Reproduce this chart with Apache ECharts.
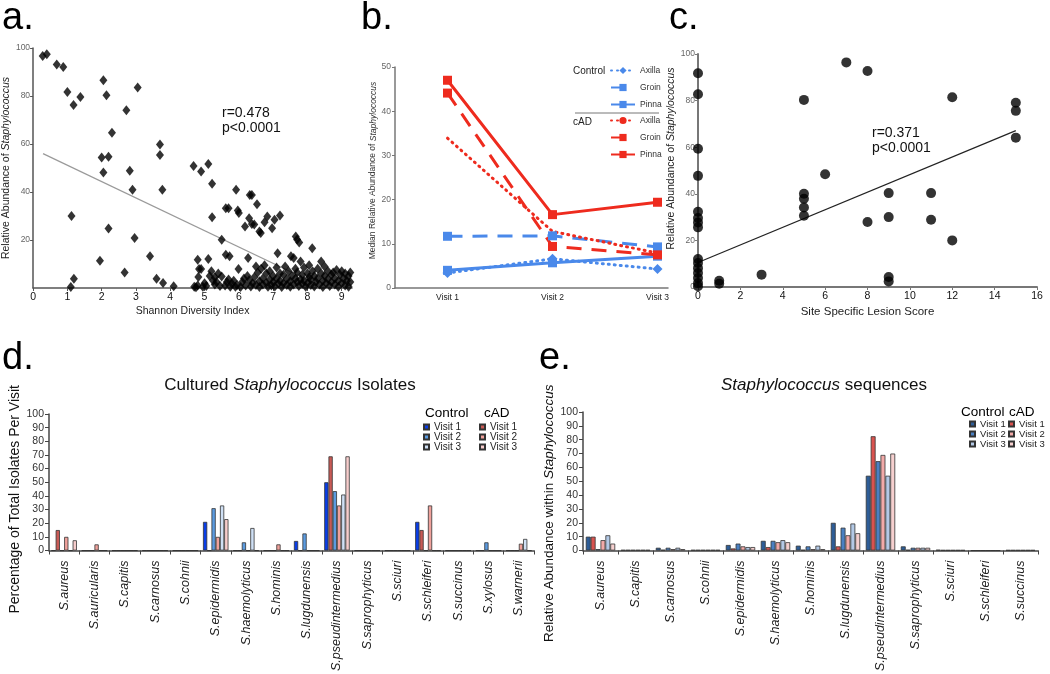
<!DOCTYPE html>
<html><head><meta charset="utf-8">
<script src="https://cdn.jsdelivr.net/npm/echarts@6/dist/echarts.min.js"></script>
<style>html,body{margin:0;padding:0;background:#fff}#c{width:1050px;height:674px}</style>
</head><body><div id="c"></div>
<script>
const FONT = '"Liberation Sans", Arial, Helvetica, sans-serif';

// ---------- Panel a: Shannon diversity vs relative abundance ----------
const aPoints = [
 [0.28,96.7],[0.40,97.4],[0.69,93.1],[0.88,92.1],[1.0,81.7],[1.18,76.2],[1.38,79.6],[1.12,30],[1.1,0.4],[1.19,3.9],
 [2.05,86.6],[2.14,80.3],[2.0,54.4],[2.2,54.7],[2.05,48.1],[2.3,64.7],[2.2,24.8],[1.95,11.4],[2.72,74.1],[3.05,83.5],
 [2.82,48.9],[2.9,40.9],[2.96,20.8],[2.67,6.5],[3.7,59.8],[3.7,55.4],[3.77,40.9],[3.41,13.2],[3.6,3.9],[3.79,2.1],[4.1,0.7],
 [4.68,50.8],[4.9,48.5],[5.11,51.7],[5.22,43.4],[5.22,29.5],[5.5,20.1],[5.62,33.2],[5.7,33.2],[5.62,13.9],[5.92,40.9],
 [5.97,32.3],[6.0,31.2],[6.3,29.1],[6.18,25.6],[6.32,38.8],[6.38,38.8],[6.53,34.9],[6.38,26.7],[6.64,22.9],[6.83,29.8],
 [6.75,27.4],[6.97,24.9],[7.04,28.4],[7.2,30.2],[7.13,14.5],[7.66,21.5],[7.76,19],[8.14,16.6],[7.52,13.2],[6.27,12.5],
 [5.73,13.2],[4.8,11.8],[5.11,12.1],[4.84,7.9],[4.82,4.6],[5.99,7.9],[6.6,23.5],[6.45,26.5],[7.7,20.2],
 [4.7,0.5],[4.75,0.3],[4.8,1],[4.9,7.9],[4.95,0.5],[5.0,2],[5.05,0.8],[5.15,5],[5.2,7],[5.25,3],[5.3,4.5],[5.3,1.5],
 [5.35,2.5],[5.4,6],[5.45,0.8],[5.5,4.8],[5.6,1],[5.65,2.5],[5.7,3.5],[5.75,0.5],[5.8,1.8],[5.85,3],[5.9,0.5],[5.95,1.2],
 [6.05,0.4],[6.1,2.5],[6.15,4],[6.2,1],[6.25,5],[6.3,3.2],[6.35,0.6],[6.4,2],[6.45,4.5],[6.5,9],[6.5,1.2],[6.55,6.5],
 [6.6,2.8],[6.6,0.4],[6.65,8],[6.7,4],[6.7,1.5],[6.75,9.5],[6.8,6],[6.8,2.2],[6.85,0.5],[6.9,3.5],[6.9,7],[6.95,1],
 [7.0,5],[7.0,2.5],[7.05,0.6],[7.1,4],[7.1,8.5],[7.15,1.8],[7.2,6],[7.2,3],[7.25,0.4],[7.3,2],[7.3,5.5],[7.35,9],
 [7.4,1.2],[7.4,3.8],[7.45,7],[7.5,0.5],[7.5,2.8],[7.55,5],[7.6,12.5],[7.6,1.5],[7.65,4],[7.65,8],[7.7,2.5],[7.7,6.5],
 [7.75,0.8],[7.8,3.5],[7.8,11],[7.85,5.5],[7.85,1.8],[7.9,8.5],[7.9,3],[7.95,0.5],[8.0,6],[8.0,2],[8.05,4.5],[8.05,9.5],
 [8.1,1.2],[8.1,3.5],[8.15,7],[8.2,0.6],[8.2,5],[8.25,2.5],[8.3,8],[8.3,4],[8.35,1.5],[8.4,11],[8.4,6],[8.45,3],[8.45,0.4],
 [8.5,9],[8.5,5],[8.55,2],[8.6,7],[8.6,3.8],[8.65,0.8],[8.7,5.5],[8.7,2.5],[8.75,6.5],[8.8,1.5],[8.8,4],[8.85,7.5],
 [8.9,3],[8.9,0.5],[8.95,5.5],[9.0,2],[9.0,7],[9.05,4],[9.1,1],[9.1,6],[9.15,3],[9.2,0.5],[9.2,5],[9.25,2.5],[9.25,6.5]
];
const aFit = [[0.29,56],[8.2,2.1]];
const aStats = ['r=0.478','p<0.0001'];

// ---------- Panel b: median abundance by visit ----------
const bVisits = ['Visit 1','Visit 2','Visit 3'];
const bCtlAxilla = [3.4, 6.6, 4.3];
const bCtlGroin  = [11.7, 11.8, 9.3];
const bCtlPinna  = [4.0, 5.7, 7.2];
const bCadAxilla = [33.9, 12.8, 7.9];
const bCadGroin  = [44.1, 9.4, 7.5];
const bCadPinna  = [47.0, 16.6, 19.4];

// ---------- Panel c: lesion score vs relative abundance ----------
const cPoints = [
 [0,91.7],[0,82.7],[0,59.3],[0,47.7],[0,32.3],[0,29.6],[0,27.7],[0,25.6],[0,12],[0,10.3],[0,8.1],[0,6],[0,3.9],[0,1.7],[0,0.3],
 [1,2.7],[1,1.4],[3,5.3],[5,80.3],[5,40],[5,37.9],[5,34.1],[5,30.6],[6,48.4],[7,96.4],[8,92.7],[8,27.9],
 [9,40.3],[9,30],[9,4.3],[9,2.4],[11,40.3],[11,28.9],[12,81.4],[12,20],[15,79.1],[15,75.6],[15,64.1]
];
const cFit = [[0,10.5],[15,67.1]];
const cStats = ['r=0.371','p<0.0001'];

// ---------- Panel d: cultured isolates ----------
const dSpecies = ['S.aureus','S.auricularis','S.capitis','S.carnosus','S.cohnii','S.epidermidis','S.haemolyticus','S.hominis','S.lugdunensis','S.pseudintermedius','S.saprophyticus','S.sciuri','S.schleiferi','S.succinus','S.xylosus','S.warnerii'];
const dCtlV1 = [0,0,0,0,0,21,0,0,7,50,0,0,21,0,0,0];
const dCadV1 = [15,0,0,0,0,0,0,0,0,69,0,0,15,0,0,0];
const dCtlV2 = [0,0,0,0,0,31,6,0,12.5,43.5,0,0,0,0,6,0];
const dCadV2 = [10,4.5,0,0,0,10,0,4.5,0,33,0,0,33,0,0,5];
const dCtlV3 = [0,0,0,0,0,33,16.5,0,0,41,0,0,0,0,0,8.5];
const dCadV3 = [7.5,0,0,0,0,23,0,0,0,69,0,0,0,0,0,0];

// ---------- Panel e: sequences ----------
const eSpecies = ['S.aureus','S.capitis','S.carnosus','S.cohnii','S.epidermidis','S.haemolyticus','S.hominis','S.lugdunensis','S.pseudintermedius','S.saprophyticus','S.sciuri','S.schleiferi','S.succinus'];
const eCtlV1 = [10,0.4,2,0.4,4,7,3.5,20,54,3,0.5,0,0.3];
const eCadV1 = [10,0.4,0.5,0.4,1.5,2.5,0.5,3,82.5,0.5,0.3,0,0.3];
const eCtlV2 = [1,0.4,2,0.4,5,7,3,16.5,64.5,2,0.3,0,0.3];
const eCadV2 = [7.5,0.4,1,0.4,3,6,1,11,69,2,0.3,0,0.3];
const eCtlV3 = [11,0.4,2,0.4,2.5,7.5,3.5,19.5,54,2,0.3,0,0.3];
const eCadV3 = [5,0.4,1,0.4,2.5,6,1,12.5,70,2,0.3,0,0.3];

// ---------- styles ----------
const BLUE = '#4a89ea', RED = '#ee2b1e';
const dColors = {c1:'#0a3ee6', c2:'#5b9be0', c3:'#cfe0f5', a1:'#c85a55', a2:'#f0a19b', a3:'#f7cdcc'};
const eColors = {c1:'#2e5d97', c2:'#4a80c2', c3:'#b3c9e6', a1:'#d9534f', a2:'#f2aaa8', a3:'#f6d0cf'};

const chart = echarts.init(document.getElementById('c'), null, {renderer:'canvas'});

function richName(pre, it, post, size, color){
  return {
    text: '{n|' + pre + '}{i|' + it + '}' + (post ? '{n|' + post + '}' : ''),
    style: {rich: {n:{fontSize:size, color:color, fontFamily:FONT}, i:{fontSize:size, color:color, fontFamily:FONT, fontStyle:'italic'}}}
  };
}
const aName = richName('Relative Abundance of ','Staphylococcus','',10.5,'#222');
const bName = richName('Median Relative Abundance of ','Staphylococcus','',8.5,'#333');
const cName = richName('Relative Abundance of ','Staphylococcus','',10.5,'#222');
const eName = richName('Relative Abundance within ','Staphylococcus','',13.5,'#111');

const baseAxisLine = c => ({show:true, lineStyle:{color:c, width:1.5}});

function barSeries(prefix, idx, names, data, colors){
  return data.map((d,k)=>({
    name: prefix + names[k], type:'bar', xAxisIndex:idx, yAxisIndex:idx, data:d,
    barGap:'0%', barCategoryGap:'16%',
    itemStyle:{color:colors[k], borderColor:'#333', borderWidth:0.8},
    emphasis:{disabled:true}
  }));
}
const barNames = ['Control Visit 1','cAD Visit 1','Control Visit 2','cAD Visit 2','Control Visit 3','cAD Visit 3'];

function lineB(name, data, color, type, symbol){
  return {
    name, type:'line', xAxisIndex:1, yAxisIndex:1,
    data: data.map((v,i)=>[i+1, v]),
    symbol: symbol, symbolSize: symbol==='diamond'?10:9, showSymbol: symbol!=='none',
    itemStyle:{color}, lineStyle:{color, width:3, type, cap: Array.isArray(type)&&type[0]<2 ? 'round':'butt'},
    emphasis:{disabled:true}
  };
}

function barLegend(prefix, names, left, top, size){
  return {data: names.map(n=>prefix+n), orient:'vertical', left, top, itemWidth:5, itemHeight:5, itemGap:0, icon:'rect',
    selectedMode:false, formatter: n => n.slice(-7), textStyle:{fontSize:size, color:'#222', fontFamily:FONT, lineHeight:10}, padding:0};
}

const option = {
  backgroundColor:'#fff',
  animation:false,
  textStyle:{fontFamily:FONT},
  grid:[
    {left:28, top:48, width:324, height:240},
    {left:395, top:67, width:273, height:221},
    {left:698, top:54, width:339, height:233},
    {left:49, top:414, width:485, height:138},
    {left:583, top:412, width:455, height:141}
  ],
  xAxis:[
    {gridIndex:0, type:'value', min:0, max:9.3, interval:1, splitLine:{show:false},
     axisLine:baseAxisLine('#555'), axisTick:{show:true, length:3, lineStyle:{color:'#555'}},
     axisLabel:{showMaxLabel:false, fontSize:10.5, color:'#111', margin:4},
     name:'Shannon Diversity Index', nameLocation:'middle', nameGap:18, nameTextStyle:{fontSize:10.5, color:'#222'}},
    {gridIndex:1, type:'value', min:0.5, max:3.1, interval:0.5, splitLine:{show:false},
     axisLine:baseAxisLine('#777'), axisTick:{show:false},
     axisLabel:{showMaxLabel:false, fontSize:8.5, color:'#222', margin:5, formatter: v => Number.isInteger(v) ? bVisits[v-1] : ''}},
    {gridIndex:2, type:'value', min:0, max:16, interval:2, splitLine:{show:false},
     axisLine:{show:true, lineStyle:{color:'#777', width:2}}, axisTick:{show:true, length:3, lineStyle:{color:'#777'}},
     axisLabel:{fontSize:10.5, color:'#111', margin:4},
     name:'Site Specific Lesion Score', nameLocation:'middle', nameGap:19, nameTextStyle:{fontSize:11.5, color:'#222'}},
    {gridIndex:3, type:'category', data:dSpecies,
     axisLine:baseAxisLine('#444'), axisTick:{show:true, length:4, lineStyle:{color:'#444'}},
     axisLabel:{interval:0, rotate:90, fontStyle:'italic', fontSize:12.5, color:'#222', margin:10}},
    {gridIndex:4, type:'category', data:eSpecies,
     axisLine:baseAxisLine('#444'), axisTick:{show:true, length:4, lineStyle:{color:'#444'}},
     axisLabel:{interval:0, rotate:90, fontStyle:'italic', fontSize:12.5, color:'#222', margin:10}}
  ],
  yAxis:[
    {gridIndex:0, type:'value', min:0, max:100, interval:20, splitLine:{show:false},
     axisLine:baseAxisLine('#555'), axisTick:{show:true, length:3, lineStyle:{color:'#555'}},
     axisLabel:{showMinLabel:false, fontSize:8.5, color:'#666', margin:3},
     name:aName.text, nameLocation:'middle', nameGap:14, nameTextStyle:aName.style},
    {gridIndex:1, type:'value', min:0, max:50, interval:10, splitLine:{show:false},
     axisLine:baseAxisLine('#777'), axisTick:{show:true, length:3, lineStyle:{color:'#777'}},
     axisLabel:{fontSize:8.5, color:'#666', margin:4},
     name:bName.text, nameLocation:'middle', nameGap:15, nameTextStyle:Object.assign({padding:[0,0,0,14]}, bName.style)},
    {gridIndex:2, type:'value', min:0, max:100, interval:20, splitLine:{show:false},
     axisLine:{show:true, lineStyle:{color:'#777', width:2}}, axisTick:{show:true, length:3, lineStyle:{color:'#777'}},
     axisLabel:{fontSize:8.5, color:'#666', margin:3},
     name:cName.text, nameLocation:'middle', nameGap:13, nameTextStyle:Object.assign({padding:[0,0,0,24]}, cName.style)},
    {gridIndex:3, type:'value', min:0, max:100, interval:10, splitLine:{show:false},
     axisLine:baseAxisLine('#444'), axisTick:{show:true, length:4, lineStyle:{color:'#444'}},
     axisLabel:{fontSize:10.5, color:'#333', margin:5},
     name:'Percentage of Total Isolates Per Visit', nameLocation:'middle', nameGap:27, nameTextStyle:{fontSize:14, color:'#111', padding:[0,34,0,0]}},
    {gridIndex:4, type:'value', min:0, max:100, interval:10, splitLine:{show:false},
     axisLine:baseAxisLine('#444'), axisTick:{show:true, length:4, lineStyle:{color:'#444'}},
     axisLabel:{fontSize:10.5, color:'#333', margin:5},
     name:eName.text, nameLocation:'middle', nameGap:21, nameTextStyle:Object.assign({padding:[0,64,0,0]}, eName.style)}
  ],
  legend:[
    {data:['Control Axilla','Control Groin','Control Pinna'], orient:'vertical', left:610, top:66, itemWidth:24, itemHeight:9, itemGap:8,
     selectedMode:false, formatter:n=>n.split(' ')[1], textStyle:{fontSize:8.5, color:'#333', fontFamily:FONT}, padding:0},
    {data:['cAD Axilla','cAD Groin','cAD Pinna'], orient:'vertical', left:610, top:116, itemWidth:24, itemHeight:9, itemGap:8,
     selectedMode:false, formatter:n=>n.split(' ')[1], textStyle:{fontSize:8.5, color:'#333', fontFamily:FONT}, padding:0},
    barLegend('d ', ['Control Visit 1','Control Visit 2','Control Visit 3'], 423, 422, 10),
    barLegend('d ', ['cAD Visit 1','cAD Visit 2','cAD Visit 3'], 479, 422, 10),
    barLegend('e ', ['Control Visit 1','Control Visit 2','Control Visit 3'], 969, 419, 9.5),
    barLegend('e ', ['cAD Visit 1','cAD Visit 2','cAD Visit 3'], 1008, 419, 9.5)
  ],
  series:[
    {type:'line', xAxisIndex:0, yAxisIndex:0, data:aFit, showSymbol:false, symbol:'none', lineStyle:{color:'#9a9a9a', width:1.2}, z:1, silent:true},
    {type:'scatter', xAxisIndex:0, yAxisIndex:0, data:aPoints, symbol:'diamond', symbolSize:[8,10], itemStyle:{color:'#000'}, z:3, silent:true},
    lineB('Control Axilla', bCtlAxilla, BLUE, [1,5], 'diamond'),
    lineB('Control Groin', bCtlGroin, BLUE, [15,10], 'rect'),
    lineB('Control Pinna', bCtlPinna, BLUE, 'solid', 'rect'),
    lineB('cAD Axilla', bCadAxilla, RED, [1,5], 'none'),
    lineB('cAD Groin', bCadGroin, RED, [15,10], 'rect'),
    lineB('cAD Pinna', bCadPinna, RED, 'solid', 'rect'),
    {type:'line', xAxisIndex:2, yAxisIndex:2, data:cFit, showSymbol:false, symbol:'none', lineStyle:{color:'#222', width:1.2}, z:1, silent:true},
    {type:'scatter', xAxisIndex:2, yAxisIndex:2, data:cPoints, symbol:'circle', symbolSize:10, itemStyle:{color:'#000'}, z:3, silent:true},
    ...barSeries('d ', 3, barNames, [dCtlV1,dCadV1,dCtlV2,dCadV2,dCtlV3,dCadV3], [dColors.c1,dColors.a1,dColors.c2,dColors.a2,dColors.c3,dColors.a3]),
    ...barSeries('e ', 4, barNames, [eCtlV1,eCadV1,eCtlV2,eCadV2,eCtlV3,eCadV3], [eColors.c1,eColors.a1,eColors.c2,eColors.a2,eColors.c3,eColors.a3])
  ],
  graphic:[
    {type:'text', left:2, top:0, style:{text:'a.', fontSize:38, fontFamily:FONT, fill:'#000'}},
    {type:'text', left:361, top:0, style:{text:'b.', fontSize:38, fontFamily:FONT, fill:'#000'}},
    {type:'text', left:669, top:0, style:{text:'c.', fontSize:38, fontFamily:FONT, fill:'#000'}},
    {type:'text', left:2, top:340, style:{text:'d.', fontSize:38, fontFamily:FONT, fill:'#000'}},
    {type:'text', left:539, top:340, style:{text:'e.', fontSize:38, fontFamily:FONT, fill:'#000'}},
    {type:'text', x:222, y:113, style:{text:aStats[0], fontSize:14, fontFamily:FONT, fill:'#111', verticalAlign:'middle'}},
    {type:'text', x:222, y:128, style:{text:aStats[1], fontSize:14, fontFamily:FONT, fill:'#111', verticalAlign:'middle'}},
    {type:'text', x:872, y:133, style:{text:cStats[0], fontSize:14, fontFamily:FONT, fill:'#111', verticalAlign:'middle'}},
    {type:'text', x:872, y:148, style:{text:cStats[1], fontSize:14, fontFamily:FONT, fill:'#111', verticalAlign:'middle'}},
    {type:'text', x:573, y:71, style:{text:'Control', fontSize:10, fontFamily:FONT, fill:'#222', verticalAlign:'middle'}},
    {type:'text', x:573, y:122, style:{text:'cAD', fontSize:10, fontFamily:FONT, fill:'#222', verticalAlign:'middle'}},
    {type:'line', shape:{x1:575, y1:113, x2:659, y2:113}, style:{stroke:'#777', lineWidth:1}},
    {type:'text', x:290, y:385, style:{text:'{n|Cultured }{i|Staphylococcus}{n| Isolates}', align:'center', verticalAlign:'middle',
      rich:{n:{fontSize:17, fontFamily:FONT, fill:'#111'}, i:{fontSize:17, fontFamily:FONT, fill:'#111', fontStyle:'italic'}}}},
    {type:'text', x:824, y:385, style:{text:'{i|Staphylococcus}{n| sequences}', align:'center', verticalAlign:'middle',
      rich:{n:{fontSize:17, fontFamily:FONT, fill:'#111'}, i:{fontSize:17, fontFamily:FONT, fill:'#111', fontStyle:'italic'}}}},
    {type:'text', x:425, y:413, style:{text:'Control', fontSize:13.5, fontFamily:FONT, fill:'#000', verticalAlign:'middle'}},
    {type:'text', x:484, y:413, style:{text:'cAD', fontSize:13.5, fontFamily:FONT, fill:'#000', verticalAlign:'middle'}},
    {type:'text', x:961, y:412, style:{text:'Control', fontSize:13.5, fontFamily:FONT, fill:'#000', verticalAlign:'middle'}},
    {type:'text', x:1009, y:412, style:{text:'cAD', fontSize:13.5, fontFamily:FONT, fill:'#000', verticalAlign:'middle'}}
  ]
};
chart.setOption(option);
</script></body></html>
